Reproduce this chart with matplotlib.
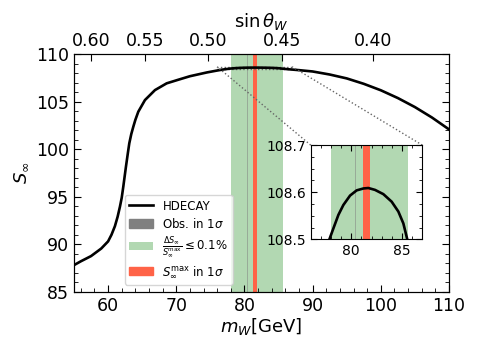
import numpy as np
import matplotlib
matplotlib.use('Agg')
import matplotlib.pyplot as plt
from matplotlib.patches import Patch
from matplotlib.lines import Line2D
from mpl_toolkits.axes_grid1.inset_locator import mark_inset

# S_inf vs m_W
mw = [55, 56, 57.5, 59, 60, 60.5, 61, 61.4, 61.74, 62.0, 62.23, 62.62, 62.9,
      63.11, 63.4, 63.7, 64.0, 64.43, 65.41, 66.88, 68.59, 70.3, 72, 74.5, 76,
      77, 77.84, 78.23, 78.73, 79.22, 79.88, 80.53, 81.19, 81.68, 82.34, 83.16,
      83.98, 84.64, 85.13, 85.52, 86.5, 88, 90, 92.5, 95, 97.5, 100, 102.5, 105,
      107.5, 110]
s_inf = [87.8, 88.2, 88.75, 89.55, 90.3, 91.0, 91.9, 92.9, 93.96, 94.9, 96.06,
         98.17, 99.6, 100.63, 101.6, 102.38, 103.1, 103.96, 105.19, 106.24,
         106.95, 107.33, 107.7, 108.1, 108.3, 108.42, 108.5, 108.523, 108.552,
         108.573, 108.593, 108.604, 108.608, 108.609, 108.605, 108.596, 108.58,
         108.559, 108.534, 108.5, 108.43, 108.34, 108.2, 107.88, 107.47, 106.9,
         106.22, 105.4, 104.45, 103.35, 102.1]

obs_band = [80.367, 80.391]
green_band = [78.0, 85.6]
red_band = [81.2, 81.85]

sin_labels = ['0.60', '0.55', '0.50', '0.45', '0.40']
sin_pos_mw = [57.49, 65.41, 74.7, 85.46, 98.81]

fig = plt.figure(figsize=(4.78, 3.5), dpi=100)
ax = fig.add_axes([0.1548, 0.1666, 0.7845, 0.678])

ax.axvspan(green_band[0], green_band[1], color='green', alpha=0.3, lw=0)
ax.axvspan(obs_band[0], obs_band[1], fc='gray', ec='gray', lw=0.6, alpha=0.6)
ax.axvspan(red_band[0], red_band[1], color='tomato', lw=0)
ax.plot(mw, s_inf, 'k-', lw=1.9)

ax.set_xlim(55, 110)
ax.set_ylim(85, 110)
ax.set_xticks([60, 70, 80, 90, 100, 110])
ax.set_yticks([85, 90, 95, 100, 105, 110])
ax.xaxis.set_minor_locator(matplotlib.ticker.MultipleLocator(2))
ax.yaxis.set_minor_locator(matplotlib.ticker.MultipleLocator(1))
ax.tick_params(which='major', direction='in', top=True, right=True, length=5,
               labelsize=12.5)
ax.tick_params(which='minor', direction='in', top=False, right=True, length=3)
ax.set_xlabel(r'$m_W$[GeV]', fontsize=13, labelpad=1)
ax.set_ylabel(r'$S_\infty$', fontsize=13, labelpad=4)

# top axis: sin theta_W
ax2 = ax.twiny()
ax2.set_xlim(ax.get_xlim())
ax2.set_xticks(sin_pos_mw)
ax2.set_xticklabels(sin_labels)
ax2.tick_params(direction='in', length=5, labelsize=12.5, pad=3)
ax2.set_xlabel(r'$\sin\theta_W$', fontsize=13, labelpad=4)

handles = [Line2D([], [], color='k', lw=1.9),
           Patch(color='gray'),
           Patch(color='green', alpha=0.3, lw=0),
           Patch(color='tomato')]
labels = ['HDECAY', r'Obs. in $1\sigma$',
          r'$\frac{\Delta S_\infty}{S_\infty^{\rm max}}\leq 0.1\%$',
          r'$S_\infty^{\rm max}$ in $1\sigma$']
ax.legend(handles, labels, loc='lower left', bbox_to_anchor=(0.135, 0.03),
          borderaxespad=0, fontsize=8.5, labelspacing=0.35)

# inset
axins = fig.add_axes([0.650, 0.316, 0.2335, 0.2694])
axins.axvspan(green_band[0], green_band[1], color='green', alpha=0.3, lw=0)
axins.axvspan(obs_band[0], obs_band[1], fc='gray', ec='gray', lw=0.6, alpha=0.6)
axins.axvspan(red_band[0], red_band[1], color='tomato', lw=0)
axins.plot(mw, s_inf, 'k-', lw=1.9)
axins.set_xlim(76, 87)
axins.set_ylim(108.5, 108.7)
axins.set_xticks([80, 85])
axins.set_yticks([108.5, 108.6, 108.7])
axins.xaxis.set_minor_locator(matplotlib.ticker.MultipleLocator(1))
axins.yaxis.set_minor_locator(matplotlib.ticker.MultipleLocator(0.025))
axins.tick_params(which='both', direction='in', top=True, right=True,
                  labelsize=10)
axins.tick_params(which='major', length=4)
axins.tick_params(which='minor', length=2)
mark_inset(ax, axins, loc1=1, loc2=2, fc='none', ec='0.4', ls=':', lw=1)

fig.savefig('out.png', dpi=100)
